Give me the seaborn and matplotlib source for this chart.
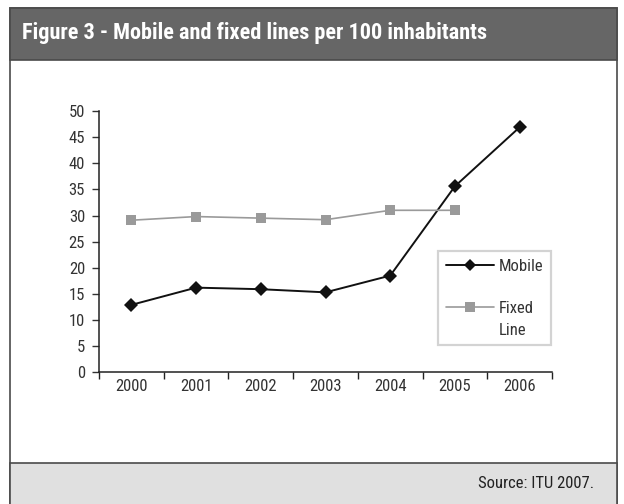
import matplotlib
matplotlib.use("Agg")
import matplotlib.pyplot as plt
from matplotlib.patches import Rectangle
import numpy as np
import pandas as pd
import seaborn as sns

years = ["2000", "2001", "2002", "2003", "2004", "2005", "2006"]
mobile = [12.9, 16.2, 15.9, 15.3, 18.5, 35.6, 46.9]
fixed_line = [29.1, 29.8, 29.5, 29.2, 31.0, 31.0, np.nan]
y_ticks = [0, 5, 10, 15, 20, 25, 30, 35, 40, 45, 50]

title = "Figure 3 - Mobile and fixed lines per 100 inhabitants"
source = "Source: ITU 2007."

sns.set_theme(style="white")
plt.rcParams["font.family"] = ["Roboto Condensed", "Liberation Sans Narrow",
                               "Roboto", "DejaVu Sans"]
plt.rcParams["font.stretch"] = "condensed"

df = pd.DataFrame({
    "year": years * 2,
    "value": mobile + fixed_line,
    "series": ["Mobile"] * len(years) + ["Fixed\nLine"] * len(years),
})

W, H = 624, 504
fig = plt.figure(figsize=(W / 100, H / 100), dpi=100)

def fx(px):
    return px / W

def fy(py):
    return 1 - py / H

left, right = 10, 617
# panel frame, header and footer bands
fig.patches.append(Rectangle((fx(left), fy(505)), fx(right - left), fy(8) - fy(505),
                             transform=fig.transFigure, facecolor="white",
                             edgecolor="#4a4a4a", linewidth=1.2, zorder=-3))
fig.patches.append(Rectangle((fx(left), fy(60)), fx(right - left), fy(8) - fy(60),
                             transform=fig.transFigure, facecolor="#666666",
                             edgecolor="#4a4a4a", linewidth=1.2, zorder=-2))
fig.patches.append(Rectangle((fx(left), fy(505)), fx(right - left), fy(462.5) - fy(505),
                             transform=fig.transFigure, facecolor="#e0e0e0",
                             edgecolor="#4a4a4a", linewidth=1.2, zorder=-2))
fig.text(fx(22), fy(33), title, color="white", fontsize=16, fontweight="bold",
         ha="left", va="center")
fig.text(fx(594), fy(483), source, color="#222222", fontsize=12,
         ha="right", va="center")

ax = fig.add_axes([fx(99), fy(372.3), fx(552 - 99), fy(111) - fy(372.3)])
ax.set_zorder(5)
sns.lineplot(data=df, x="year", y="value", hue="series", style="series",
             palette={"Mobile": "#111111", "Fixed\nLine": "#9a9a9a"},
             markers={"Mobile": "D", "Fixed\nLine": "s"},
             dashes=False, markersize=7, linewidth=1.4,
             markeredgewidth=0, ax=ax)
for line in ax.lines:
    if line.get_marker() == "s":
        line.set_markersize(7.8)
        line.set_linewidth(1.2)

ax.set_xlim(-0.5, len(years) - 0.5)
ax.set_ylim(0, 50)
ax.set_yticks(y_ticks)
ax.set_xticks(range(len(years)))
ax.set_xticklabels(years)
ax.set_xticks(np.arange(-0.5, len(years)), minor=True)
ax.tick_params(axis="x", which="major", length=0, labelsize=12, pad=5,
               colors="#333333")
ax.tick_params(axis="x", which="minor", bottom=True, length=5, width=1,
               color="#222222", direction="out")
ax.tick_params(axis="y", left=True, length=5, width=1, labelsize=12,
               colors="#333333", direction="out", pad=5)
ax.set_xlabel("")
ax.set_ylabel("")
for side in ["top", "right"]:
    ax.spines[side].set_visible(False)
for side in ["left", "bottom"]:
    ax.spines[side].set_color("#222222")
    ax.spines[side].set_linewidth(1.1)
ax.patch.set_alpha(0)

handles, labels = ax.get_legend_handles_labels()
for h in handles:
    if h.get_marker() == "s":
        h.set_markersize(7)
    else:
        h.set_markersize(6.5)
leg_fs = 12
leg_linespacing = 1.55
leg = ax.legend(handles, labels, loc="upper right",
                bbox_to_anchor=(0.998, 0.463), borderaxespad=0,
                frameon=True, fancybox=False,
                edgecolor="#c8c8c8", fontsize=leg_fs, handlelength=2.9,
                borderpad=0.45, labelspacing=1.65, handletextpad=0.3)
leg.get_frame().set_linewidth(1.6)
for t in leg.get_texts():
    t.set_color("#333333")
    t.set_multialignment("left")
    t.set_linespacing(leg_linespacing)

# keep each legend key level with the first line of its label
for handle, text in zip(leg.legend_handles, leg.get_texts()):
    n_lines = text.get_text().count("\n") + 1
    if n_lines > 1:
        shift = (n_lines - 1) * leg_linespacing * leg_fs / 2
        handle.set_ydata(np.asarray(handle.get_ydata()) + shift)

fig.savefig("out.png", dpi=100)
